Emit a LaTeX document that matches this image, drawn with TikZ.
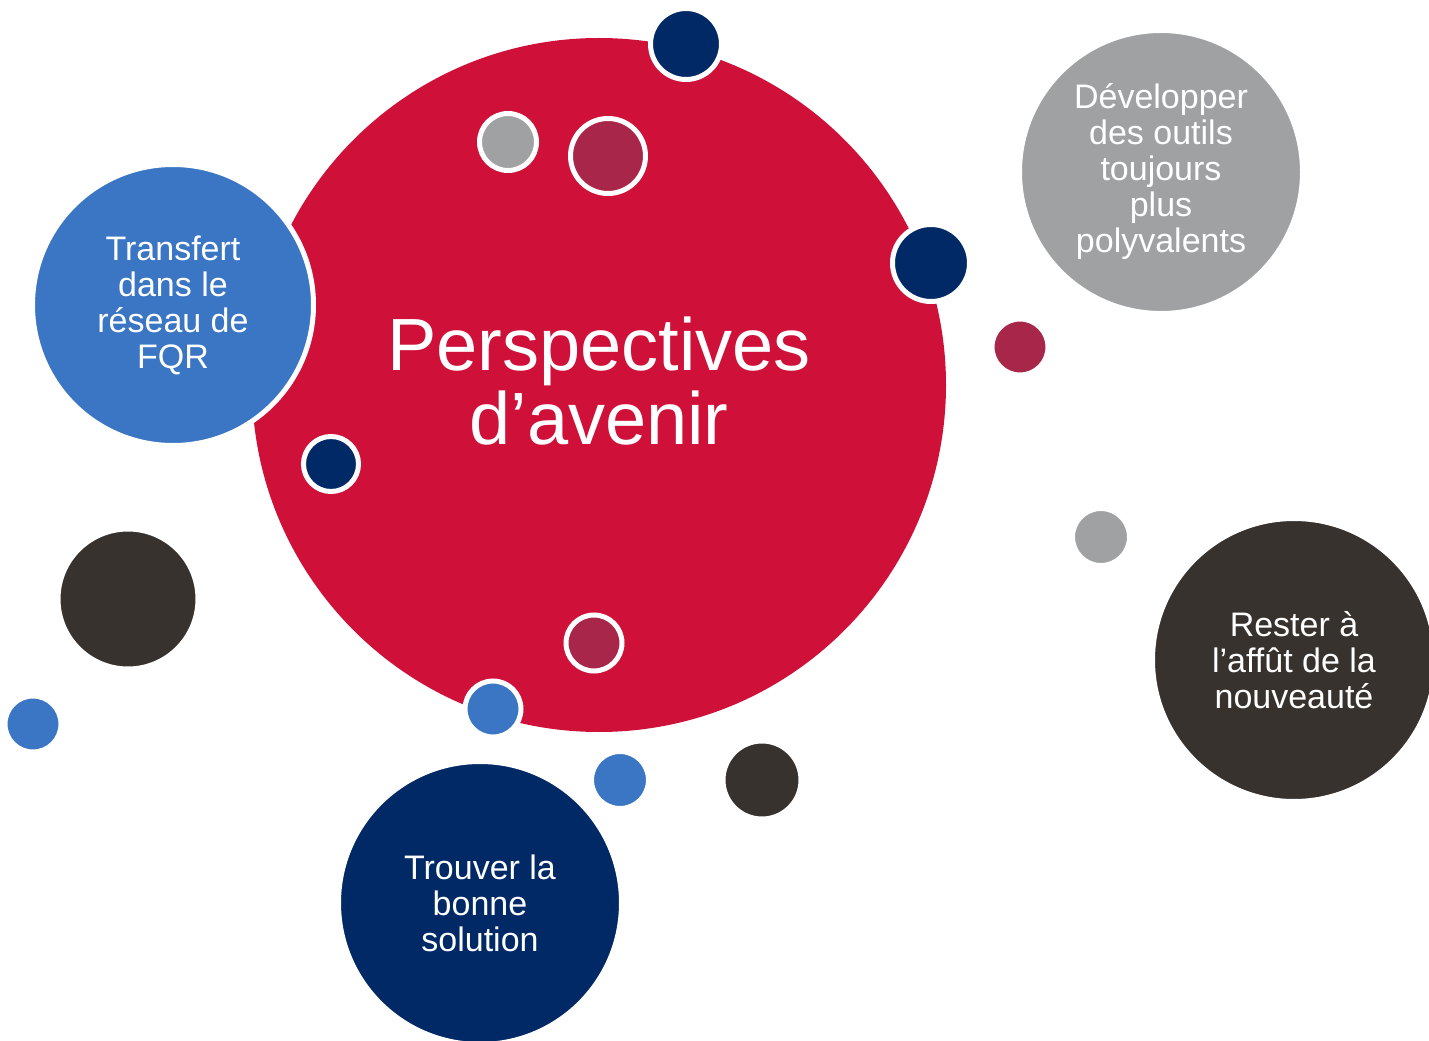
\documentclass[tikz,border=0pt]{standalone}
\usepackage{fontspec}
\setmainfont{Liberation Sans}
\definecolor{crimson}{RGB}{207,17,58}
\definecolor{navy}{RGB}{0,41,102}
\definecolor{azure}{RGB}{59,118,196}
\definecolor{stone}{RGB}{160,161,163}
\definecolor{wine}{RGB}{168,38,74}
\definecolor{coal}{RGB}{55,50,46}

\begin{document}
\begin{tikzpicture}[x=0.75pt, y=-0.75pt,
	bubble/.style={circle, draw=white, line width=3.75pt, inner sep=0pt, minimum size=(2*#1+5)*0.75pt},
	label/.style={text=white, align=center, font=\fontsize{25.5}{27}\selectfont}]
	\useasboundingbox (0,0) rectangle (1429,1041);
	% central bubble
	\node[circle, fill=crimson, inner sep=0pt, minimum size=694*0.75pt] (persp) at (599,385) {};
	\node[text=white, align=center, font=\fontsize{55.5}{56}\selectfont] (title) at (599,381) {Perspectives\\d’avenir};
	% four themes
	\node[bubble=138, fill=azure, label] (transfert) at (173,305) {Transfert\\dans le\\réseau de\\FQR};
	\node[bubble=139, fill=stone, label] (outils) at (1161,172) {Développer\\des outils\\toujours\\plus\\polyvalents};
	\node[bubble=139, fill=coal, label] (affut) at (1294,660) {Rester à\\l’affût de la\\nouveauté};
	\node[bubble=139, fill=navy, label] (solution) at (480,903) {Trouver la\\bonne\\solution};
	% small dots
	\node[bubble=33, fill=navy] (dotA) at (686,44) {};
	\node[bubble=26, fill=stone] (dotB) at (508,142) {};
	\node[bubble=35, fill=wine] (dotC) at (608,156) {};
	\node[bubble=36, fill=navy] (dotD) at (931,263) {};
	\node[bubble=25, fill=navy] (dotE) at (331,464) {};
	\node[bubble=25.5, fill=wine] (dotF) at (594,643) {};
	\node[bubble=25.5, fill=azure] (dotG) at (493,709) {};
	\node[bubble=26, fill=azure] (dotH) at (620,780) {};
	\node[bubble=36.5, fill=coal] (dotI) at (762,780) {};
	\node[bubble=67.5, fill=coal] (dotJ) at (128,599) {};
	\node[bubble=25.5, fill=azure] (dotK) at (33,724) {};
	\node[bubble=25.5, fill=wine] (dotL) at (1020,347) {};
	\node[bubble=26, fill=stone] (dotM) at (1101,537) {};
\end{tikzpicture}
\end{document}
